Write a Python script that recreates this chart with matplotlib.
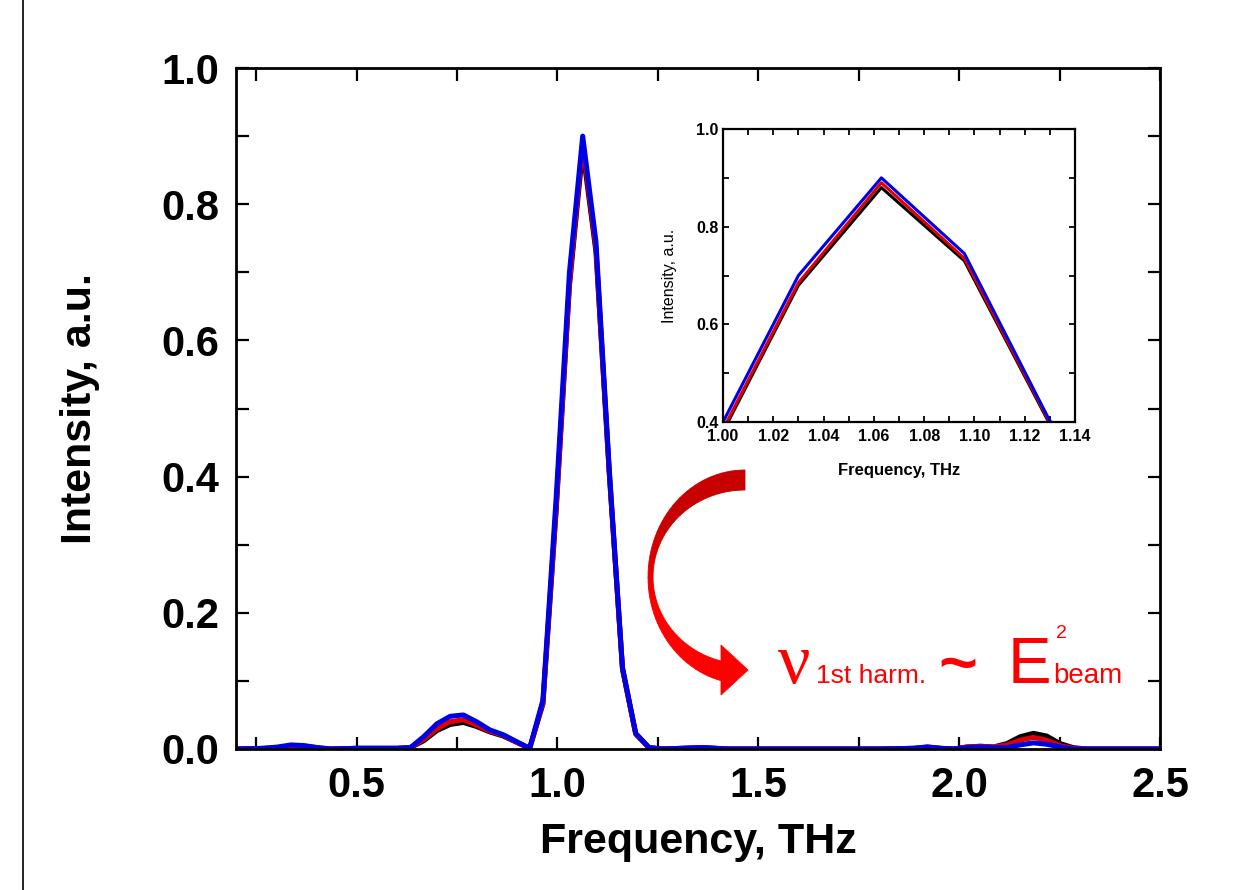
import numpy as np
import matplotlib
matplotlib.use("Agg")
import matplotlib.pyplot as plt
from matplotlib.patches import Polygon
from matplotlib.lines import Line2D

# spectrum samples (THz) and intensities for the three beam energies
freq = [0.205, 0.271, 0.304, 0.337, 0.370, 0.403, 0.436, 0.502, 0.601, 0.634,
        0.667, 0.700, 0.733, 0.766, 0.799, 0.832, 0.865, 0.898, 0.931, 0.964,
        0.997, 1.030, 1.063, 1.096, 1.129, 1.162, 1.195, 1.228, 1.261, 1.360,
        1.393, 1.426, 1.800, 1.888, 1.921, 1.954, 1.987, 2.020, 2.053, 2.086,
        2.119, 2.152, 2.185, 2.218, 2.251, 2.284, 2.317, 2.500]

black_vals = [0, 0.001, 0.002, 0.004, 0.003, 0.001, 0, 0.001, 0.001, 0.002,
              0.012, 0.027, 0.036, 0.039, 0.033, 0.025, 0.019, 0.010, 0.001, 0.066,
              0.350, 0.680, 0.880, 0.730, 0.405, 0.117, 0.022, 0.002, 0, 0.002,
              0.001, 0, 0, 0.001, 0.002, 0.001, 0, 0.003, 0.004, 0.003,
              0.008, 0.018, 0.023, 0.019, 0.008, 0.002, 0, 0]

red_vals = [0, 0.001, 0.002, 0.004, 0.004, 0.002, 0, 0.001, 0.001, 0.002,
            0.014, 0.030, 0.040, 0.043, 0.035, 0.026, 0.020, 0.010, 0.001, 0.068,
            0.355, 0.685, 0.890, 0.735, 0.408, 0.118, 0.022, 0.002, 0, 0.002,
            0.001, 0, 0, 0.001, 0.003, 0.001, 0, 0.003, 0.004, 0.003,
            0.006, 0.013, 0.017, 0.013, 0.005, 0.001, 0, 0]

blue_vals = [0, 0.001, 0.003, 0.006, 0.005, 0.002, 0, 0.001, 0.001, 0.002,
             0.018, 0.037, 0.048, 0.050, 0.040, 0.028, 0.021, 0.011, 0.001, 0.072,
             0.370, 0.700, 0.900, 0.745, 0.412, 0.120, 0.023, 0.002, 0, 0.002,
             0.001, 0, 0, 0.001, 0.003, 0.001, 0, 0.002, 0.003, 0.002,
             0.002, 0.006, 0.009, 0.007, 0.003, 0, 0, 0]

series = [(black_vals, "black"), (red_vals, "#e00000"), (blue_vals, "#0000e6")]

W, H = 1252, 890
plt.rcParams["font.family"] = ["Liberation Sans", "DejaVu Sans"]

fig = plt.figure(figsize=(W / 100, H / 100), dpi=100)


def px(x, y):
    # figure pixel (top-left origin) -> figure fraction
    return x / W, 1 - y / H


def style_axes(ax, lw, tlen, fsize):
    for s in ax.spines.values():
        s.set_linewidth(lw)
    ax.tick_params(which="both", direction="in", top=True, right=True,
                   width=lw * 0.8, labelsize=fsize)
    ax.tick_params(which="major", length=tlen)
    ax.tick_params(which="minor", length=tlen)
    for lab in ax.get_xticklabels() + ax.get_yticklabels():
        lab.set_fontweight("bold")


# main axes
ax = fig.add_axes([236 / W, 1 - 749 / H, (1160 - 236) / W, (749 - 68) / H])
for vals, col in series:
    ax.plot(freq, vals, color=col, lw=3.6, solid_joinstyle="round")
ax.set_xlim(0.2, 2.5)
ax.set_ylim(0, 1.0)
ax.set_xticks([0.5, 1.0, 1.5, 2.0, 2.5])
ax.set_xticks(np.arange(0.25, 2.5, 0.5), minor=True)
ax.set_yticks([0, 0.2, 0.4, 0.6, 0.8, 1.0])
ax.set_yticks([0.1, 0.3, 0.5, 0.7, 0.9], minor=True)
ax.set_xticklabels(["0.5", "1.0", "1.5", "2.0", "2.5"])
ax.set_yticklabels(["0.0", "0.2", "0.4", "0.6", "0.8", "1.0"])
style_axes(ax, 2.0, 9, 30)
ax.tick_params(axis="x", pad=12)
ax.tick_params(axis="y", pad=12)
ax.set_xlabel("Frequency, THz", fontsize=31, fontweight="bold", labelpad=12)
ax.set_ylabel("Intensity, a.u.", fontsize=31, fontweight="bold", labelpad=44)

# inset zoom on the peak
ins = fig.add_axes([723 / W, 1 - 422 / H, (1075 - 723) / W, (422 - 129) / H])
for vals, col in series:
    ins.plot(freq, vals, color=col, lw=2.2)
ins.set_xlim(1.0, 1.14)
ins.set_ylim(0.4, 1.0)
ins.set_xticks([1.00, 1.02, 1.04, 1.06, 1.08, 1.10, 1.12, 1.14])
ins.set_xticks(np.arange(1.01, 1.14, 0.02), minor=True)
ins.set_yticks([0.4, 0.6, 0.8, 1.0])
ins.set_yticks([0.5, 0.7, 0.9], minor=True)
ins.set_xticklabels(["1.00", "1.02", "1.04", "1.06", "1.08", "1.10", "1.12", "1.14"])
ins.set_yticklabels(["0.4", "0.6", "0.8", "1.0"])
style_axes(ins, 1.6, 4, 11.5)
ins.tick_params(axis="x", pad=5)
ins.tick_params(axis="y", pad=3)
ins.set_xlabel("Frequency, THz", fontsize=12, fontweight="bold", labelpad=14)
ins.set_ylabel("Intensity, a.u.", fontsize=11.5, labelpad=14)

# curved ribbon arrow
cx, cy = 745, 577
t = np.linspace(0, 1, 60)
end_out = 360 - np.degrees(np.arccos(-23 / 97))
end_in = 360 - np.degrees(np.arccos(-23 / 92))
phi_o = np.radians(90 + t * (end_out - 90))
phi_i = np.radians(90 + t * (end_in - 90))
ox, oy = cx + 97 * np.cos(phi_o), cy - 107 * np.sin(phi_o)
ix, iy = cx + 92 * np.cos(phi_i), cy - 87 * np.sin(phi_i)
dark = np.array([0.78, 0.0, 0.0])
bright = np.array([1.0, 0.0, 0.0])
for k in range(len(t) - 1):
    f = np.clip((t[k] - 0.35) / 0.3, 0, 1)
    col = dark * (1 - f) + bright * f
    pts = [px(ox[k], oy[k]), px(ox[k + 1], oy[k + 1]),
           px(ix[k + 1], iy[k + 1]), px(ix[k], iy[k])]
    fig.add_artist(Polygon(pts, closed=True, transform=fig.transFigure,
                           facecolor=col, edgecolor=col, lw=0.6))
fig.add_artist(Polygon([px(721, 645), px(748, 670), px(721, 695)], closed=True,
                       transform=fig.transFigure, facecolor="#ff0000",
                       edgecolor="#ff0000", lw=0.6))

# relation text
red = "#ff0000"
fig.text(*px(778, 683), "\u03bd", color=red, fontsize=52,
         family=["Liberation Serif", "DejaVu Serif"], va="baseline")
fig.text(*px(816, 683), "1st harm.", color=red, fontsize=19, va="baseline")
fig.text(*px(938, 685), "~", color=red, fontsize=48, fontweight="bold", va="baseline")
fig.text(*px(1008, 683), "E", color=red, fontsize=47, va="baseline")
fig.text(*px(1056, 638), "2", color=red, fontsize=14, va="baseline")
fig.text(*px(1053, 683), "beam", color=red, fontsize=20, va="baseline")

# page border line on the left
fig.add_artist(Line2D([23 / W, 23 / W], [0, 1], color="black", lw=1.2,
                      transform=fig.transFigure))

fig.savefig("out.png", dpi=100)
